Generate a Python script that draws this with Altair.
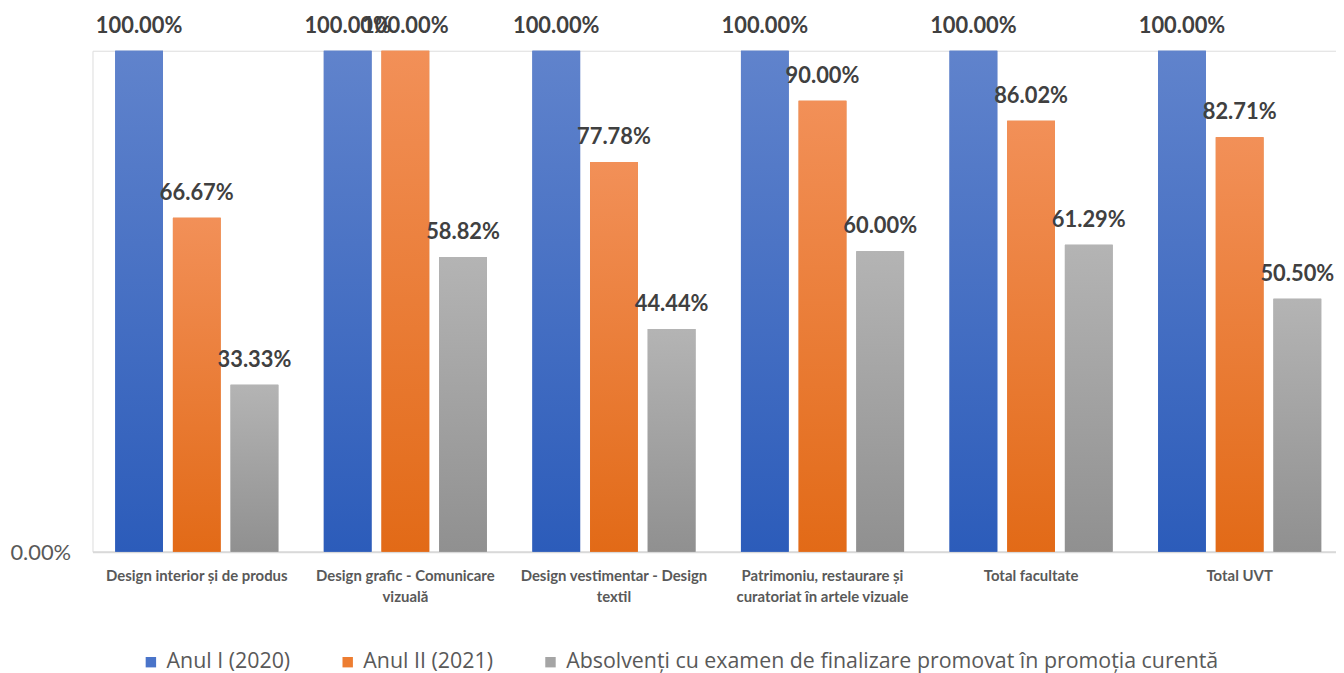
import altair as alt
import pandas as pd

categories = [
    "Design interior și de produs",
    "Design grafic - Comunicare vizuală",
    "Design vestimentar - Design textil",
    "Patrimoniu, restaurare și curatoriat în artele vizuale",
    "Total facultate",
    "Total UVT",
]
label_lines = [
    ["Design interior și de produs"],
    ["Design grafic - Comunicare", "vizuală"],
    ["Design vestimentar - Design", "textil"],
    ["Patrimoniu, restaurare și", "curatoriat în artele vizuale"],
    ["Total facultate"],
    ["Total UVT"],
]
series = [
    "Anul I (2020)",
    "Anul II (2021)",
    "Absolvenți cu examen de finalizare promovat în promoția curentă",
]
anul1 = [100.00, 100.00, 100.00, 100.00, 100.00, 100.00]
anul2 = [66.67, 100.00, 77.78, 90.00, 86.02, 82.71]
absolventi = [33.33, 58.82, 44.44, 60.00, 61.29, 50.50]

solid = ["#4a74c9", "#ed7d31", "#a5a5a5"]
grad_top = ["#6083cc", "#f29058", "#b4b4b4"]
grad_bot = ["#2c5cba", "#e26a17", "#909090"]

rows = []
for i, c in enumerate(categories):
    for s, vals in zip(series, [anul1, anul2, absolventi]):
        rows.append({"cat": c, "series": s, "value": vals[i]})
df = pd.DataFrame(rows)

expr = "''"
for c, lines in reversed(list(zip(categories, label_lines))):
    arr = "[" + ",".join("'" + l + "'" for l in lines) + "]"
    expr = f"datum.label == '{c}' ? {arr} : ({expr})"

x_enc = alt.X(
    "cat:N",
    sort=categories,
    scale=alt.Scale(paddingInner=0.218, paddingOuter=0.109),
    axis=alt.Axis(
        title=None,
        labelAngle=0,
        labelExpr=expr,
        labelFont="Lato",
        labelFontWeight="bold",
        labelFontSize=15,
        labelColor="#595959",
        labelLineHeight=21,
        labelPadding=17,
        labelLimit=300,
        ticks=False,
        domainColor="#d9d9d9",
        domainWidth=2,
    ),
)
xo_enc = alt.XOffset("series:N", sort=series, scale=alt.Scale(paddingInner=0.172, paddingOuter=0))
y_enc = alt.Y(
    "value:Q",
    scale=alt.Scale(domain=[0, 100]),
    axis=alt.Axis(
        title=None,
        values=[0],
        labelExpr="format(datum.value, '.2f') + '%'",
        labelFont="Lato",
        labelFontSize=22,
        labelColor="#595959",
        labelPadding=22,
        labelOffset=1,
        ticks=False,
        domain=False,
        grid=False,
    ),
)

base = alt.Chart(df)

legend_bars = base.mark_bar().encode(
    x=x_enc,
    xOffset=xo_enc,
    y=y_enc,
    color=alt.Color(
        "series:N",
        sort=series,
        scale=alt.Scale(domain=series, range=solid),
        legend=alt.Legend(
            title=None,
            orient="none",
            legendX=48,
            legendY=604,
            direction="horizontal",
            columns=3,
            symbolType="square",
            symbolSize=110,
            symbolStrokeWidth=0,
            labelFont="Open Sans",
            labelFontSize=21.5,
            labelColor="#595959",
            columnPadding=47,
            labelLimit=800,
            labelOffset=5,
        ),
    ),
)

shadow = base.mark_bar(color="#000000", opacity=0.12, xOffset=2).encode(
    x=x_enc, xOffset=xo_enc, y=y_enc
)

layers = [shadow, legend_bars]
for i, s in enumerate(series):
    layers.append(
        base.transform_filter(alt.datum.series == s)
        .mark_bar(
            color=alt.Gradient(
                gradient="linear",
                x1=0, x2=0, y1=0, y2=1,
                stops=[
                    alt.GradientStop(color=grad_top[i], offset=0),
                    alt.GradientStop(color=grad_bot[i], offset=1),
                ],
            )
        )
        .encode(x=x_enc, xOffset=xo_enc, y=y_enc)
    )

labels = base.transform_calculate(
    txt="format(datum.value, '.2f') + '%'"
).mark_text(
    font="Lato", fontWeight="bold", fontSize=22, color="#404040", dy=-18, baseline="alphabetic"
).encode(x=x_enc, xOffset=xo_enc, y=y_enc, text="txt:N")
layers.append(labels)

chart = (
    alt.layer(*layers)
    .properties(
        width=1259,
        height=504,
        autosize=alt.AutoSizeParams(type="none"),
        padding={"left": 85, "top": 41, "right": -8, "bottom": 120},
    )
    .configure_view(stroke=None)
    .configure(background="white")
)

chart.save("out.html", embed_options={"renderer": "svg", "actions": False})
